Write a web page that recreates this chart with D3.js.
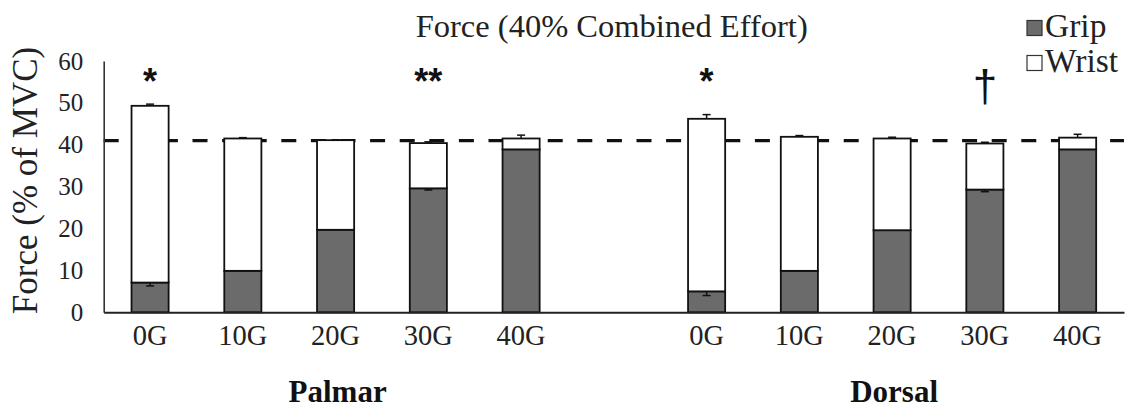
<!DOCTYPE html>
<html>
<head>
<meta charset="utf-8">
<script src="https://cdn.jsdelivr.net/npm/d3@7"></script>
<style>
  html, body { margin: 0; padding: 0; background: #fff; }
  svg { display: block; }
  .serif { font-family: "Liberation Serif", "DejaVu Serif", serif; }
  .sans { font-family: "Liberation Sans", "DejaVu Sans", sans-serif; }
</style>
</head>
<body>
<svg id="chart" width="1134" height="409"></svg>
<script>
// ---- data ----
const groups = ["Palmar", "Dorsal"];
const conditions = ["0G", "10G", "20G", "30G", "40G"];
const seriesNames = ["Grip", "Wrist"];
const gripPalmar  = [7.1, 9.9, 19.7, 29.6, 38.9];
const wristPalmar = [42.2, 31.6, 21.4, 10.8, 2.6];
const gripDorsal  = [5.0, 9.9, 19.6, 29.3, 38.9];
const wristDorsal = [41.2, 32.0, 21.9, 11.0, 2.8];
const gripErrPalmar  = [0.8, 0.0, 0.0, 0.4, 0.0];
const totalErrPalmar = [0.4, 0.2, 0.1, 0.3, 0.8];
const gripErrDorsal  = [1.0, 0.0, 0.0, 0.5, 0.0];
const totalErrDorsal = [1.0, 0.3, 0.3, 0.3, 0.8];
const yTicks = [0, 10, 20, 30, 40, 50, 60];
const targetLevel = 41;
const markerGroup = ["Palmar", "Palmar", "Dorsal", "Dorsal"];
const markerCond  = ["0G", "30G", "0G", "30G"];
const markerSym   = ["*", "**", "*", "\u2020"];
const title = "Force (40% Combined Effort)";
const yLabel = "Force (% of MVC)";

// ---- build rows ----
const rows = [];
groups.forEach((g, gi) => {
  const grip = gi === 0 ? gripPalmar : gripDorsal;
  const wrist = gi === 0 ? wristPalmar : wristDorsal;
  const ge = gi === 0 ? gripErrPalmar : gripErrDorsal;
  const te = gi === 0 ? totalErrPalmar : totalErrDorsal;
  conditions.forEach((c, ci) => {
    rows.push({ key: g + "|" + c, group: g, cond: c, grip: grip[ci], wrist: wrist[ci],
                gripErr: ge[ci], totalErr: te[ci] });
  });
});
const domainKeys = [];
groups.forEach((g, gi) => {
  if (gi > 0) domainKeys.push("gap" + gi);
  conditions.forEach(c => domainKeys.push(g + "|" + c));
});

const svg = d3.select("#chart");
const x = d3.scaleBand().domain(domainKeys).range([103.7, 1124]).paddingInner(0.6).paddingOuter(0.3);
const y = d3.scaleLinear().domain([0, 60]).range([312.3, 61]);

// dashed target line (behind bars)
svg.append("line")
  .attr("x1", x.range()[0]).attr("x2", x.range()[1])
  .attr("y1", y(targetLevel)).attr("y2", y(targetLevel))
  .attr("stroke", "#111").attr("stroke-width", 3.2)
  .attr("stroke-dasharray", "15,14.6");

// stacked bars
const stack = d3.stack().keys(["grip", "wrist"]);
const stacked = stack(rows);
const fills = { grip: "#6b6b6b", wrist: "#ffffff" };
svg.append("g").selectAll("g").data(stacked).join("g")
  .attr("fill", d => fills[d.key])
  .selectAll("rect").data(d => d).join("rect")
  .attr("x", d => x(d.data.key))
  .attr("width", x.bandwidth())
  .attr("y", d => y(d[1]))
  .attr("height", d => y(d[0]) - y(d[1]))
  .attr("stroke", "#111").attr("stroke-width", 1.8);

// error bars
const capW = 8;
const eg = svg.append("g").attr("stroke", "#111").attr("stroke-width", 1.5);
rows.forEach(r => {
  const cx = x(r.key) + x.bandwidth() / 2;
  const total = r.grip + r.wrist;
  if (r.totalErr > 0) {
    eg.append("line").attr("x1", cx).attr("x2", cx).attr("y1", y(total)).attr("y2", y(total + r.totalErr));
    eg.append("line").attr("x1", cx - capW / 2).attr("x2", cx + capW / 2)
      .attr("y1", y(total + r.totalErr)).attr("y2", y(total + r.totalErr));
  }
  if (r.gripErr > 0) {
    eg.append("line").attr("x1", cx).attr("x2", cx).attr("y1", y(r.grip)).attr("y2", y(r.grip - r.gripErr));
    eg.append("line").attr("x1", cx - capW / 2).attr("x2", cx + capW / 2)
      .attr("y1", y(r.grip - r.gripErr)).attr("y2", y(r.grip - r.gripErr));
  }
});

// axes
const yAxis = svg.append("g").attr("transform", `translate(${x.range()[0]},0)`)
  .call(d3.axisLeft(y).tickValues(yTicks).tickSizeInner(0).tickSizeOuter(0).tickPadding(20.5));
yAxis.attr("font-family", null).attr("font-size", null);
yAxis.select(".domain").attr("stroke", "#333").attr("stroke-width", 1.6);
yAxis.selectAll("text").attr("class", "serif").style("font-size", "25px").attr("fill", "#222");

const xAxis = svg.append("g").attr("transform", `translate(0,${y(0)})`)
  .call(d3.axisBottom(x).tickSizeInner(0).tickSizeOuter(0).tickPadding(12.5)
    .tickFormat(k => k.startsWith("gap") ? "" : k.split("|")[1]));
xAxis.attr("font-family", null).attr("font-size", null);
xAxis.select(".domain").attr("stroke", "#222").attr("stroke-width", 2);
xAxis.selectAll("text").attr("class", "serif").style("font-size", "28.5px").attr("fill", "#222");

// group labels
groups.forEach(g => {
  const mid = conditions[Math.floor(conditions.length / 2)];
  svg.append("text")
    .attr("class", "serif")
    .attr("x", x(g + "|" + mid) + x.bandwidth() / 2 + 2)
    .attr("y", 402)
    .attr("text-anchor", "middle")
    .style("font-weight", "bold").style("font-size", "31px")
    .attr("fill", "#111")
    .text(g);
});

// significance markers
markerSym.forEach((s, i) => {
  const cx = x(markerGroup[i] + "|" + markerCond[i]) + x.bandwidth() / 2;
  const isDagger = s === "\u2020";
  svg.append("text")
    .attr("class", "sans")
    .attr("x", cx)
    .attr("y", isDagger ? 101 : 94)
    .attr("text-anchor", "middle")
    .style("font-weight", isDagger ? "normal" : "bold")
    .style("font-size", isDagger ? "44px" : "36px")
    .attr("fill", "#111")
    .text(s);
});

// title
svg.append("text")
  .attr("class", "serif")
  .attr("x", 611.7).attr("y", 36.5)
  .attr("text-anchor", "middle")
  .style("font-size", "32.5px").attr("fill", "#222")
  .text(title);

// y label
svg.append("text")
  .attr("class", "serif")
  .attr("transform", "translate(37,180.5) rotate(-90)")
  .attr("text-anchor", "middle")
  .style("font-size", "35px").attr("fill", "#222")
  .text(yLabel);

// legend
const legFills = ["#6b6b6b", "#ffffff"];
seriesNames.forEach((n, i) => {
  const gy = 20.5 + i * 35;
  svg.append("rect").attr("x", 1027).attr("y", gy).attr("width", 15).attr("height", 15)
    .attr("fill", legFills[i]).attr("stroke", "#333").attr("stroke-width", 1.2);
  svg.append("text").attr("class", "serif").attr("x", 1045).attr("y", gy + 16)
    .style("font-size", "33.5px").attr("fill", "#222")
    .text(n);
});
</script>
</body>
</html>
